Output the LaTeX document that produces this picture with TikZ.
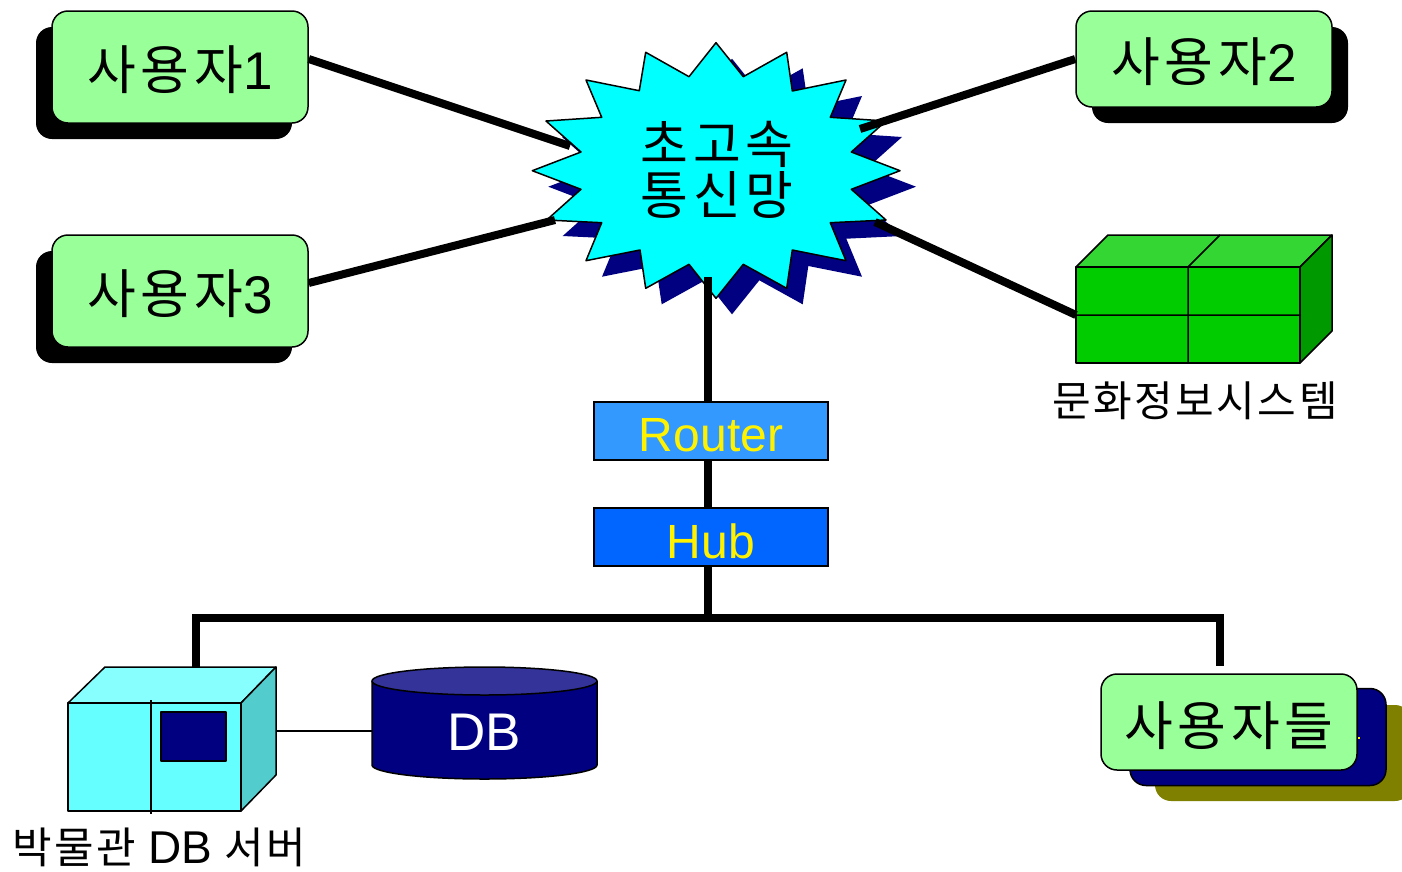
\documentclass[tikz,border=0pt]{standalone}
\usepackage{fontspec}
\newfontfamily\kr{Noto Sans CJK KR}
\newfontfamily\krs[LetterSpace=9]{Noto Sans CJK KR}
\newfontfamily\krc[LetterSpace=6]{Noto Sans CJK KR}
\newfontfamily\la{Liberation Sans}
\definecolor{navyc}{HTML}{000080}
\definecolor{mint}{HTML}{99FF99}
\definecolor{olivec}{HTML}{808000}
\definecolor{routerc}{HTML}{3399FF}
\definecolor{hubc}{HTML}{0066FF}
\definecolor{aquaf}{HTML}{00FFFF}
\definecolor{cyanf}{HTML}{66FFFF}
\definecolor{cyant}{HTML}{88FFFF}
\definecolor{cyans}{HTML}{52CCCC}
\definecolor{grnf}{HTML}{00CC00}
\definecolor{grnt}{HTML}{33D633}
\definecolor{grns}{HTML}{009900}
\definecolor{dbt}{HTML}{333399}
\tikzset{
  x=1pt,y=-1pt,
  card/.style={draw=black,line width=1.5pt,rounded corners=16pt,fill=mint,inner sep=0pt,minimum width=256pt},
  cardtext/.style={inner sep=0pt,font=\fontsize{53}{53}\selectfont\krs},
  backing/.style={rounded corners=16pt,inner sep=0pt,minimum width=256pt},
  netbox/.style={draw=black,line width=1.5pt,inner sep=0pt,minimum width=234pt,minimum height=58pt},
  nettext/.style={inner sep=0pt,text=yellow,font=\fontsize{48}{48}\selectfont\la},
  link/.style={line width=8pt,line cap=butt},
  thick box/.style={draw=black,line width=1.5pt,line join=round},
  caption/.style={inner sep=0pt,font=\fontsize{42}{42}\selectfont\krc},
  captionb/.style={inner sep=0pt,font=\fontsize{43}{43}\selectfont\krc}
}
\newcommand{\starpath}{(716,42.7) -- (743.3,76.7) -- (786.7,52.3) -- (792.3,91) -- (846,80) -- (830.3,117.3) -- (886,121) -- (851.3,152) -- (900,170.7) -- (851.3,189.3) -- (886,220) -- (830.3,222.7) -- (846,260.7) -- (792.3,250) -- (786.7,288.3) -- (743.3,264.3) -- (716,298.3) -- (689,264.3) -- (645.7,288.3) -- (640,250) -- (586,260.7) -- (601.7,222.7) -- (546.7,220) -- (581,189.3) -- (532.3,170.7) -- (581,152) -- (546,121) -- (601.7,117.3) -- (586,80) -- (639.3,90.7) -- (645.7,52.3) -- (689,76.7) -- cycle}
\begin{document}
\begin{tikzpicture}
\clip (0,0) rectangle (1402,871);
\fill[white] (0,0) rectangle (1402,871);
% star
\fill[navyc,shift={(16,16)}] \starpath;
\draw[thick box,fill=aquaf] \starpath;
\node[inner sep=0pt,align=center,font=\fontsize{52}{51}\selectfont\krs] (net) at (717,170) {초고속\\통신망};
\coordinate (sW1) at (570,146);
\coordinate (sW3) at (555,220);
\coordinate (sE2) at (860,129);
\coordinate (sE4) at (875,222);
\coordinate (sS) at (708,277);
% shadows and cards
\node[backing,fill=black,minimum height=112pt] (u1s) at (164,83) {};
\node[backing,fill=black,minimum height=96pt] (u2s) at (1220,75) {};
\node[backing,fill=black,minimum height=112pt] (u3s) at (164,307) {};
\node[card,minimum height=112pt] (u1) at (180,67) {};
\node[card,minimum height=96pt] (u2) at (1204,59) {};
\node[card,minimum height=112pt] (u3) at (180,291) {};
\node[cardtext] (u1t) at ([yshift=-3pt]u1.center) {사용자{\la 1}};
\node[cardtext] (u2t) at ([yshift=-3pt]u2.center) {사용자{\la 2}};
\node[cardtext] (u3t) at ([yshift=-3pt]u3.center) {사용자{\la 3}};
% green box
\draw[thick box,fill=grnt] (1076,267) -- (1108,235) -- (1332,235) -- (1300,267) -- cycle;
\draw[thick box,fill=grns] (1300,267) -- (1332,235) -- (1332,331) -- (1300,363) -- cycle;
\draw[thick box,fill=grnf] (1076,267) rectangle (1300,363);
\draw[line width=1.5pt] (1076,315) -- (1300,315) (1188,267) -- (1188,363) (1188,267) -- (1220,235);
\coordinate (sys) at (1076,315);
\node[caption] (syslabel) at (1195,401) {문화정보시스템};
% links
\draw[link] ([yshift=8pt]u1.east) -- (sW1);
\draw[link] ([yshift=0pt]u2.west) -- (sE2);
\draw[link] ([yshift=8pt]u3.east) -- (sW3);
\draw[link] (sys) -- (sE4);
% backbone
\coordinate (busL) at (196,618);
\coordinate (busR) at (1220,618);
\coordinate (srvT) at (196,667);
\coordinate (usrT) at (1220,666);
\draw[link] (sS) -- (sS |- busL);
\draw[link,line cap=rect] (srvT) -- (busL) -- (busR);
\draw[link] (busR) -- (usrT);
\node[netbox,fill=routerc] (router) at (711,431) {};
\node[netbox,fill=hubc] (hub) at (711,537) {};
\node[nettext] (routert) at ([yshift=-4pt]router.center) {Router};
\node[nettext] (hubt) at ([yshift=-4pt]hub.center) {Hub};
% server
\draw[thick box,fill=cyant] (68,703) -- (105,667) -- (276,667) -- (241,703) -- cycle;
\draw[thick box,fill=cyans] (241,703) -- (276,667) -- (276,775) -- (241,811) -- cycle;
\draw[thick box,fill=cyanf] (68,703) rectangle (241,811);
\draw[line width=1.5pt] (151,700) -- (151,814);
\draw[thick box,fill=navyc] (161,712) rectangle (226,761);
\coordinate (srvE) at (276,731);
\node[captionb] (srvlabel) at (159,847) {박물관 {\la\fontsize{46}{46}\selectfont DB} 서버};
% database
\draw[thick box,fill=navyc] (372,681) -- (372,765) arc[start angle=180,end angle=360,x radius=112.5pt,y radius=14pt] -- (597,681) -- cycle;
\draw[thick box,fill=dbt] (484.5,681) ellipse[x radius=112.5pt,y radius=14pt];
\coordinate (dbW) at (372,731);
\node[inner sep=0pt,text=white,font=\fontsize{53}{53}\selectfont\la] (db) at (484,732) {DB};
\draw[line width=1.5pt] (srvE) -- (dbW);
% users stack
\node[backing,fill=olivec,minimum height=96pt] (g3) at (1283,753) {};
\node[backing,draw=black,line width=1.5pt,fill=navyc,minimum height=97pt] (g2) at (1258,737) {};
\node[card,minimum height=96pt] (g1) at (1229,722) {};
\node[cardtext] (g1t) at ([yshift=-4pt]g1.center) {사용자들};
\fill[yellow] (1358,737) rectangle (1360,739);
\end{tikzpicture}
\end{document}
